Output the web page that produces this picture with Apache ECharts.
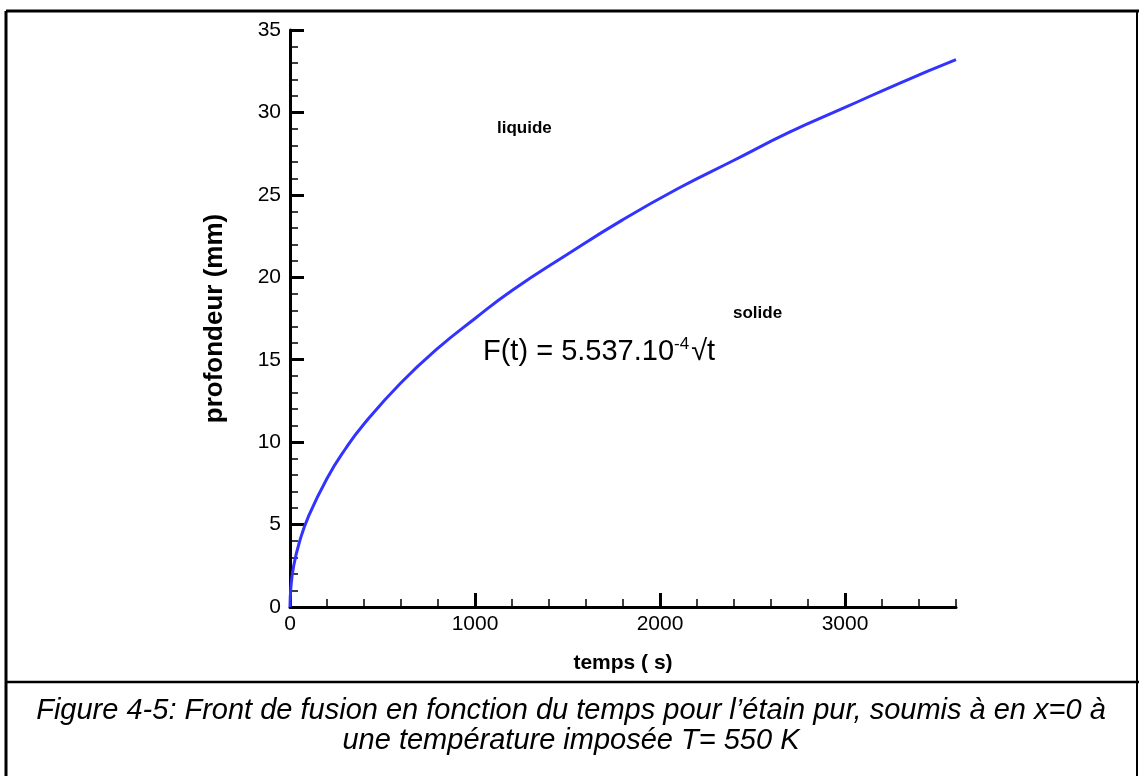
<!DOCTYPE html>
<html>
<head>
<meta charset="utf-8">
<script src="https://cdn.jsdelivr.net/npm/echarts@6/dist/echarts.min.js"></script>
<style>
html,body{margin:0;padding:0;background:#fff;}
#main{width:1139px;height:776px;}
</style>
</head>
<body>
<div id="main"></div>
<script>
// front de fusion
var temps = [0, 5, 20, 50, 100, 200, 300, 400, 600, 800, 1000, 1200, 1500, 1800, 2100, 2400, 2700, 3000, 3300, 3600];
var profondeur = [0, 1.2, 2.5, 3.9, 5.5, 7.8, 9.6, 11.1, 13.6, 15.7, 17.5, 19.2, 21.4, 23.5, 25.4, 27.1, 28.8, 30.3, 31.8, 33.2];
var xMajor = [0, 1000, 2000, 3000];

var pts = [];
for (var i = 0; i < temps.length; i++) {
	pts.push([temps[i], profondeur[i]]);
}

var font = 'Liberation Sans, Arial, sans-serif';
var myChart = echarts.init(document.getElementById('main'));
var option = {
	backgroundColor: '#fff',
	animation: false,
	grid: {left: 290, right: 183, top: 30, bottom: 169},
	xAxis: [
		{
			type: 'value',
			min: 0,
			max: 3600,
			interval: 1000,
			name: 'temps ( s)',
			nameLocation: 'middle',
			nameGap: 46,
			nameTextStyle: {fontFamily: font, fontSize: 21, fontWeight: 'bold', color: '#000'},
			axisLine: {show: true, lineStyle: {color: '#000', width: 3}},
			axisTick: {show: true, inside: true, length: 14, customValues: xMajor, lineStyle: {color: '#000', width: 3}},
			axisLabel: {
				customValues: xMajor, fontFamily: font, fontSize: 21, color: '#000', margin: 7,
				formatter: function (v) { return String(v); }
			},
			splitLine: {show: false}
		},
		{
			// petites graduations tous les 200 s
			type: 'value',
			position: 'bottom',
			min: 0,
			max: 3600,
			interval: 200,
			axisLine: {show: false},
			axisTick: {show: true, inside: true, length: 8, lineStyle: {color: '#000', width: 1.5}},
			axisLabel: {show: false},
			splitLine: {show: false}
		}
	],
	yAxis: {
		type: 'value',
		min: 0,
		max: 35,
		interval: 5,
		name: 'profondeur (mm)',
		nameLocation: 'middle',
		nameGap: 62,
		nameTextStyle: {fontFamily: font, fontSize: 26, fontWeight: 'bold', color: '#000'},
		axisLine: {show: true, lineStyle: {color: '#000', width: 3}},
		axisTick: {show: true, inside: true, length: 14, lineStyle: {color: '#000', width: 3}},
		minorTick: {show: true, splitNumber: 5, length: 8, lineStyle: {color: '#000', width: 1.5}},
		axisLabel: {fontFamily: font, fontSize: 21, color: '#000', margin: 9},
		splitLine: {show: false}
	},
	series: [
		{
			type: 'line',
			xAxisIndex: 0,
			data: pts,
			smooth: true,
			showSymbol: false,
			lineStyle: {color: '#3333ff', width: 3}
		}
	],
	graphic: [
		// cadre
		{type: 'line', shape: {x1: 6, y1: 11, x2: 1139, y2: 11}, style: {stroke: '#000', lineWidth: 3}},
		{type: 'line', shape: {x1: 6, y1: 11, x2: 6, y2: 776}, style: {stroke: '#000', lineWidth: 3}},
		{type: 'line', shape: {x1: 1137, y1: 11, x2: 1137, y2: 776}, style: {stroke: '#000', lineWidth: 2}},
		{type: 'line', shape: {x1: 6, y1: 682, x2: 1139, y2: 682}, style: {stroke: '#000', lineWidth: 2.5}},
		{type: 'text', left: 497, top: 120, style: {text: 'liquide', font: 'bold 17px ' + font, fill: '#000'}},
		{type: 'text', left: 733, top: 305, style: {text: 'solide', font: 'bold 17px ' + font, fill: '#000'}},
		{
			type: 'text', left: 483, top: 336,
			style: {
				text: 'F(t) = 5.537.10{s|-4}{r|√t}',
				fontFamily: font, fontSize: 29, fill: '#000',
				rich: {
					s: {fontFamily: font, fontSize: 17, verticalAlign: 'top', padding: [0, 2, 14, 0]},
					r: {fontFamily: font, fontSize: 29}
				}
			}
		},
		{
			type: 'text', x: 571, y: 696,
			style: {
				text: 'Figure 4-5: Front de fusion en fonction du temps pour l\u2019étain pur, soumis à en x=0 à\nune température imposée T= 550 K',
				font: 'italic 29px ' + font, fill: '#000', align: 'center', verticalAlign: 'top', lineHeight: 30
			}
		}
	]
};
myChart.setOption(option);
</script>
</body>
</html>
